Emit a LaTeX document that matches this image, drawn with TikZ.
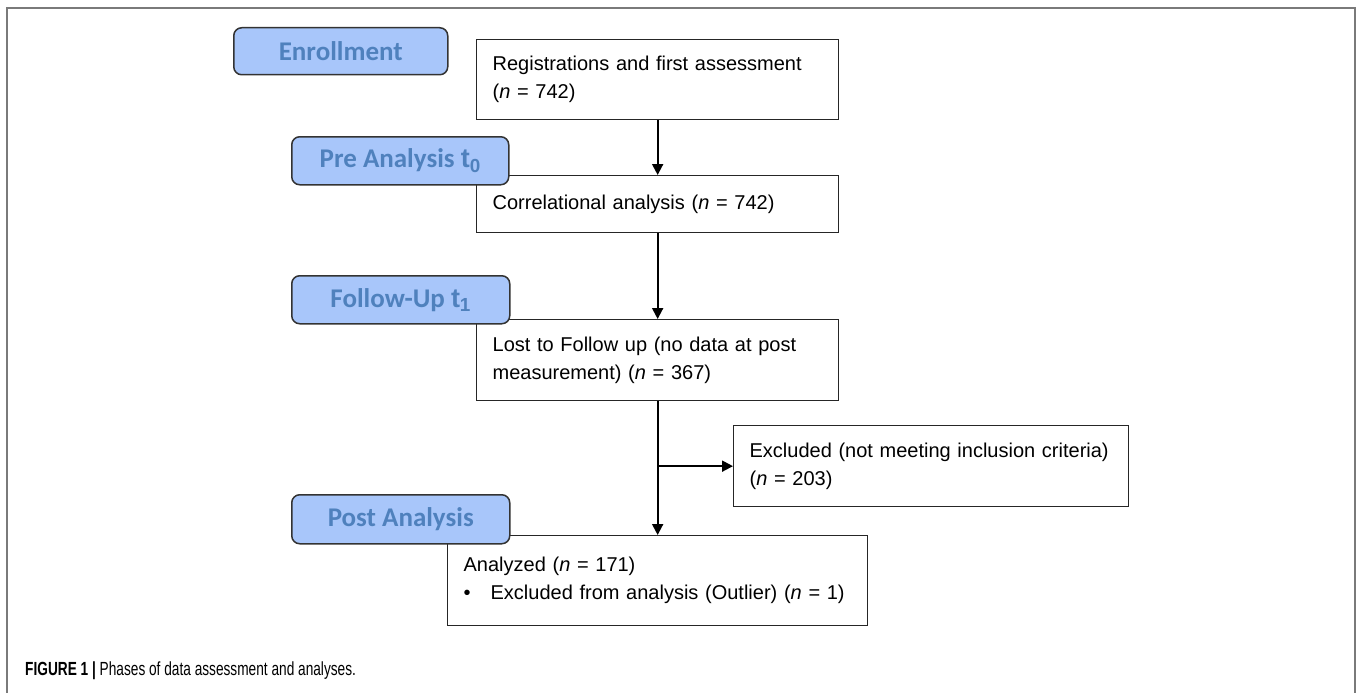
\documentclass[tikz,border=0pt]{standalone}
\usepackage{fontspec}
\setmainfont{Liberation Sans}
\newfontfamily\labelfont{Carlito}
\usetikzlibrary{arrows.meta}
\definecolor{labelfill}{HTML}{A8C6FA}
\definecolor{labeltext}{HTML}{4F81BD}
\definecolor{framegray}{HTML}{7A7A7A}
\tikzset{
  box/.style={draw=black!85, line width=1.3pt, anchor=north west, inner xsep=16pt, inner ysep=0pt,
    align=left, font=\fontsize{20}{28}\selectfont},
  phase/.style={draw=black!80, line width=1.5pt, fill=labelfill, rounded corners=8pt, anchor=north west,
    inner sep=0pt, text=labeltext, font=\labelfont\bfseries\fontsize{27}{30}\selectfont},
  arr/.style={line width=1.9pt, -{Triangle[length=11pt,width=11pt]}},
}
\begin{document}
\begin{tikzpicture}[x=1pt,y=-1pt]
\useasboundingbox (0,0) rectangle (1358,693);
\draw[framegray, line width=2pt] (7,693) -- (7,8) -- (1355,8) -- (1355,693);

% content boxes
\node[box, text width=330pt, minimum height=80pt] (b1) at (476,39)
  {Registrations and first assessment\\(\textit{n} = 742)};
\node[box, text width=330pt, minimum height=57pt] (b2) at (476,175)
  {Correlational analysis (\textit{n} = 742)};
\node[box, text width=330pt, minimum height=81pt] (b3) at (476,319)
  {Lost to Follow up (no data at post\\measurement) (\textit{n} = 367)};
\node[box, text width=363pt, minimum height=81pt] (b4) at (733,425)
  {Excluded (not meeting inclusion criteria)\\(\textit{n} = 203)};
\node[box, text width=388pt, minimum height=90pt] (b5) at (447,535)
  {Analyzed (\textit{n} = 171)\\•\hspace{20pt}Excluded from analysis (Outlier) (\textit{n} = 1)};

% connectors
\draw[arr] (b1.south) -- (b2.north);
\draw[arr] (b2.south) -- (b3.north);
\draw[arr] (b3.south) -- (b5.north);
\draw[arr] (b3.south |- b4.west) -- (b4.west);

% phase labels
\node[phase, minimum width=214pt, minimum height=47pt] (enr) at (233,27) {Enrollment};
\node[phase, minimum width=217pt, minimum height=48pt] (pre) at (291,136)
  {Pre Analysis $\mathbf{t}_{\mathbf{0}}$};
\node[phase, minimum width=218pt, minimum height=48pt] (fu) at (291,275)
  {Follow-Up $\mathbf{t}_{\mathbf{1}}$};
\node[phase, minimum width=218pt, minimum height=49pt] (post) at (291,494) {Post Analysis};

% caption
\node[anchor=west, inner sep=0pt] (cap) at (25,671)
  {\scalebox{0.72}[1]{\fontsize{19}{22}\selectfont\textbf{FIGURE 1 |} Phases of data assessment and analyses.}};
\end{tikzpicture}
\end{document}
